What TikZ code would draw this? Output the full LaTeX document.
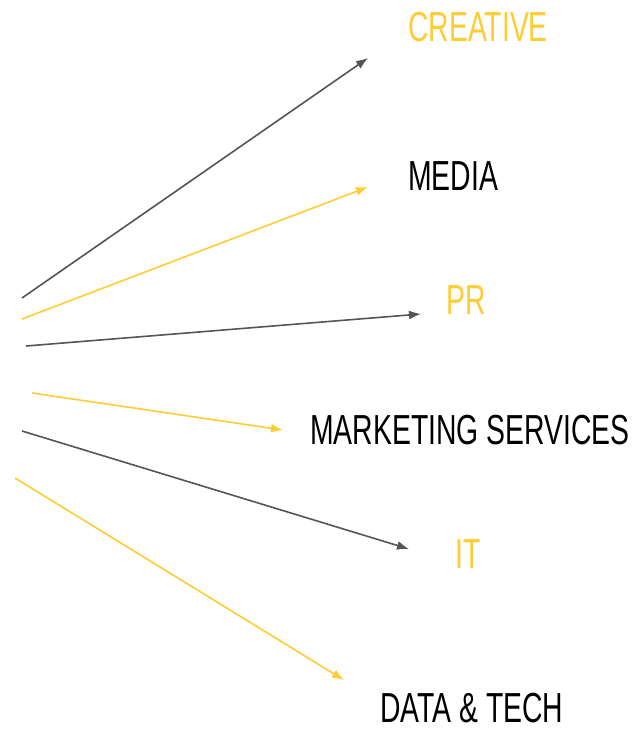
\documentclass[tikz,border=0pt]{standalone}
\usepackage{fontspec}
\setmainfont[FakeStretch=0.675]{Liberation Sans}
\usepackage{tikz}
\usetikzlibrary{arrows.meta}
\definecolor{myyellow}{RGB}{255,204,51}
\definecolor{mygray}{RGB}{85,85,85}
\tikzstyle{mytext} = [inner sep=0pt, anchor=west,
    font=\fontsize{42}{50}\selectfont]
\tikzstyle{myarrow} = [line width=1.6pt, -{Latex[length=12pt,width=9pt]}]
\begin{document}
\begin{tikzpicture}[x=1pt, y=-1pt]
                \useasboundingbox (0,0) rectangle (637,731);
                \node [mytext, text=myyellow] (creative) at (408,27) {CREATIVE};
                \node [mytext, text=black] (media) at (408,176) {MEDIA};
                \node [mytext, text=myyellow] (pr) at (446,300) {PR};
                \node [mytext, text=black] (marketing) at (310,430) {MARKETING SERVICES};
                \node [mytext, text=myyellow] (it) at (455,554) {IT};
                \node [mytext, text=black] (datatech) at (380,708) {DATA \& TECH};
                \coordinate (s1) at (22,298);  \coordinate (e1) at (368,58);
                \coordinate (s2) at (22,319);  \coordinate (e2) at (368,187);
                \coordinate (s3) at (26,346);  \coordinate (e3) at (421,314);
                \coordinate (s4) at (32,393);  \coordinate (e4) at (283,430);
                \coordinate (s5) at (22,431);  \coordinate (e5) at (409,549);
                \coordinate (s6) at (15,478);  \coordinate (e6) at (344,680);
                \draw [myarrow, mygray] (s1) -- (e1);
                \draw [myarrow, myyellow] (s2) -- (e2);
                \draw [myarrow, mygray] (s3) -- (e3);
                \draw [myarrow, myyellow] (s4) -- (e4);
                \draw [myarrow, mygray] (s5) -- (e5);
                \draw [myarrow, myyellow] (s6) -- (e6);
            \end{tikzpicture}
\end{document}
